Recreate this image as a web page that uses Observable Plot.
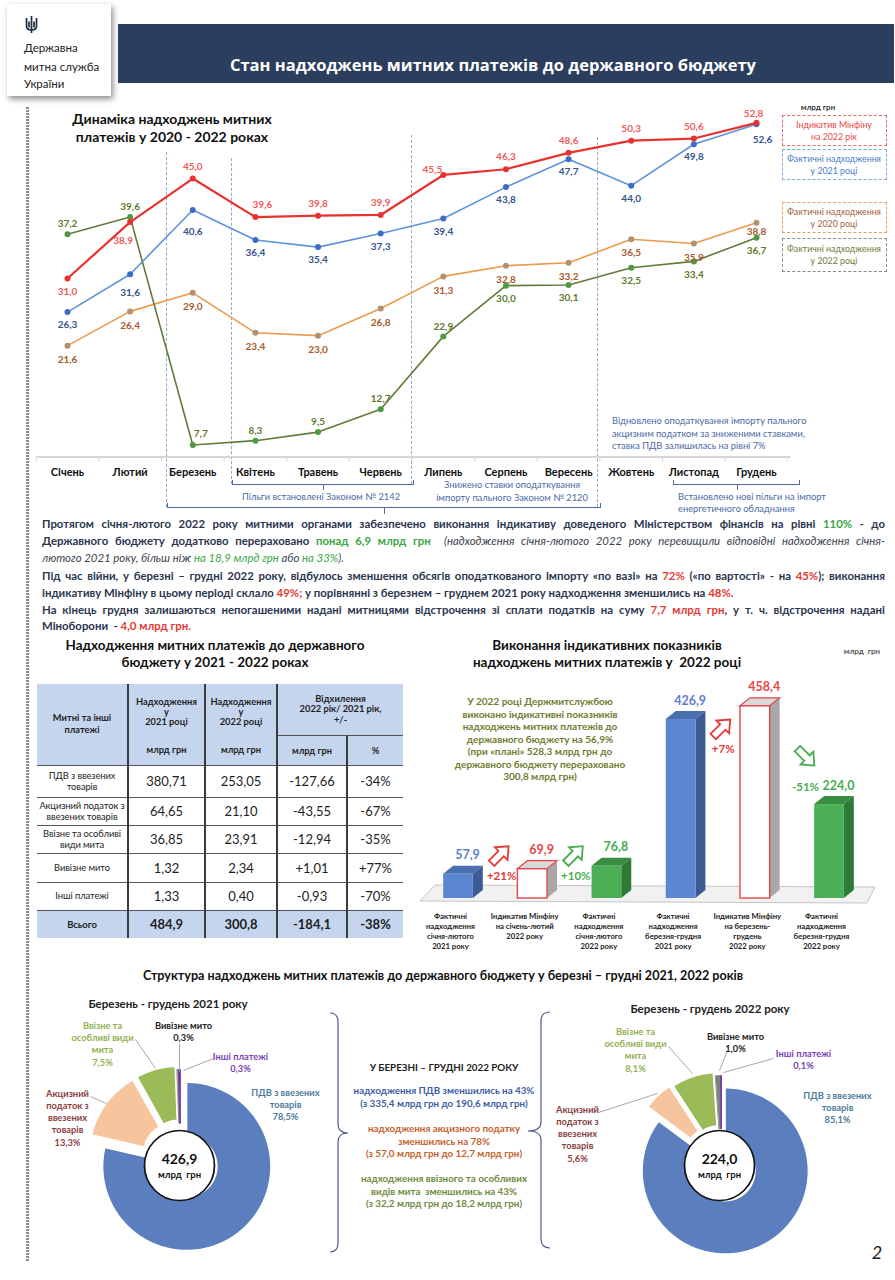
<!DOCTYPE html>
<html lang="uk">
<head>
<meta charset="utf-8">
<script src="https://cdn.jsdelivr.net/npm/d3@7"></script>
<script src="https://cdn.jsdelivr.net/npm/@observablehq/plot@0.6"></script>
<style>
html,body{margin:0;padding:0;background:#fff;}
#page{position:relative;width:895px;height:1280px;overflow:hidden;background:#fff;font-family:Lato,"Open Sans",sans-serif;color:#222;}
#page svg{overflow:visible;}
.g{color:#38a845;} .r{color:#e53935;}
.para i{font-weight:400;color:#3a3f4f;}
.para i .g{color:#38a845;}
table.tb td{padding:0;text-align:center;vertical-align:middle;color:#1e1e1e;}
</style>
</head>
<body>
<div id="page"></div>
<script>
// ================= DATA =================
const months = ["Січень","Лютий","Березень","Квітень","Травень","Червень","Липень","Серпень","Вересень","Жовтень","Листопад","Грудень"];
const indicative2022 = [31.0,38.9,45.0,39.6,39.8,39.9,45.5,46.3,48.6,50.3,50.6,52.8];
const actual2021 = [26.3,31.6,40.6,36.4,35.4,37.3,39.4,43.8,47.7,44.0,49.8,52.6];
const actual2020 = [21.6,26.4,29.0,23.4,23.0,26.8,31.3,32.8,33.2,36.5,35.9,38.8];
const actual2022 = [37.2,39.6,7.7,8.3,9.5,12.7,22.9,30.0,30.1,32.5,33.4,36.7];
const lineSeriesNames = ["Індикатив Мінфіну<br>на 2022 рік","Фактичні надходження<br>у 2021 році","Фактичні надходження<br>у 2020 році","Фактичні надходження<br>у 2022 році"];

const barCategories = ["Фактичні\nнадходження\nсічня-лютого\n2021 року","Індикатив Мінфіну\nна січень-лютий\n2022 року","Фактичні\nнадходження\nсічня-лютого\n2022 року","Фактичні\nнадходження\nберезня-грудня\n2021 року","Індикатив Мінфіну\nна березень-\nгрудень\n2022 року","Фактичні\nнадходження\nберезня-грудня\n2022 року"];
const barValues = [57.9, 69.9, 76.8, 426.9, 458.4, 224.0];
const barChanges = ["+21%","+10%","+7%","-51%"];

const tableRows = ["ПДВ з ввезених<br>товарів","Акцизний податок з<br>ввезених товарів","Ввізне та особливі<br>види мита","Вивізне мито","Інші платежі","Всього"];
const table2021 = ["380,71","64,65","36,85","1,32","1,33","484,9"];
const table2022 = ["253,05","21,10","23,91","2,34","0,40","300,8"];
const tableDiff = ["-127,66","-43,55","-12,94","+1,01","-0,93","-184,1"];
const tablePct = ["-34%","-67%","-35%","+77%","-70%","-38%"];

const pieCategories = ["ПДВ з ввезених\nтоварів","Акцизний\nподаток з\nввезених\nтоварів","Ввізне та\nособливі види\nмита","Вивізне мито","Інші платежі"];
const pie2021 = [78.5,13.3,7.5,0.3,0.3];
const pie2022 = [85.1,5.6,8.1,1.0,0.1];
const pieTotals = [426.9, 224.0];

// ================= HELPERS =================
const page = document.getElementById("page");
const fmt1 = v => d3.format(".1f")(v).replace(".", ",");
function div(css, html) {
  const d = document.createElement("div");
  d.style.cssText = "position:absolute;" + css;
  if (html != null) d.innerHTML = html;
  page.appendChild(d);
  return d;
}
function label(x, y, html, css = "", align = "center") {
  const tx = align === "center" ? "-50%" : align === "right" ? "-100%" : "0";
  return div(`left:${x}px;top:${y}px;transform:translate(${tx},-50%);white-space:nowrap;text-align:${align};${css}`, html);
}
function place(node, left, top) {
  node.style.position = "absolute";
  node.style.left = left + "px";
  node.style.top = top + "px";
  page.appendChild(node);
}

// ================= HEADER =================
div("left:7px;top:4px;width:104px;height:92px;background:#fff;box-shadow:2px 3px 6px rgba(0,0,0,.45);");
div("left:25px;top:15px;width:13px;height:19px;",
  `<svg width="13" height="19" viewBox="0 0 13 19"><path d="M6.5 1 L6.5 15 M1.5 3 L1.5 11 Q1.5 15 6.5 15 Q11.5 15 11.5 11 L11.5 3 M4 6.5 L4 12.5 M9 6.5 L9 12.5 M6.5 15 L6.5 18" stroke="#1f2a44" stroke-width="1.7" fill="none"/></svg>`);
label(24, 47, "Державна", "font-size:11.5px;color:#222;", "left");
label(24, 66, "митна служба", "font-size:11.5px;color:#222;", "left");
label(24, 83, "України", "font-size:11.5px;color:#222;", "left");
div("left:118px;top:24px;width:776px;height:59px;background:#2c3e5d;");
label(493, 64, "Стан надходжень митних платежів до державного бюджету", "font-family:'Open Sans';font-weight:700;font-size:16.5px;color:#fff;");

// left dotted border
div("left:26px;top:107px;width:3px;height:1155px;background:repeating-linear-gradient(to bottom,#8c8c8c 0 2px,transparent 2px 3px);");

// ================= LINE CHART =================
label(172, 128, "Динаміка надходжень митних<br>платежів у 2020 - 2022 роках", "font-weight:700;font-size:14px;line-height:18px;color:#111;");

const annColor = "#4b6aa6";
function vdash(x, y1, y2) { div(`left:${x}px;top:${y1}px;height:${y2 - y1}px;width:0;border-left:1px dashed #8ea6d4;`); }
vdash(166, 152, 507); vdash(231, 158, 484); vdash(411, 135, 484); vdash(597, 137, 507);
function bracket(x1, x2, y, tick) {
  div(`left:${x1}px;top:${y - 5}px;width:${x2 - x1}px;height:5px;border:1px solid ${annColor};border-top:none;box-sizing:border-box;`);
  div(`left:${(x1 + x2) / 2}px;top:${y}px;width:0;height:${tick}px;border-left:1px solid ${annColor};`);
}
bracket(232, 414, 485, 5);
bracket(167, 601, 508, 6);
bracket(673, 800, 485, 5);
const annCss = `font-size:9.3px;color:${annColor};line-height:13px;`;
label(321, 496, "Пільги встановлені Законом № 2142", annCss);
label(512, 491, "Знижено ставки оподаткування<br>імпорту пального Законом № 2120", annCss);
label(612, 434, "Відновлено оподаткування імпорту пального<br>акцизним податком за зниженими ставками,<br>ставка ПДВ залишилась на рівні 7%", annCss + "line-height:12.5px;", "left");
label(678, 503, "Встановлено нові пільги на імпорт<br>енергетичного обладнання", annCss + "line-height:12px;", "left");

const lineColors = ["#e8322f", "#5e93dc", "#ec9a4c", "#617c3a"];
const dotColors = ["#e8322f", "#3d6cc4", "#b3906e", "#4f9a40"];
const labelColors = ["#f05a5a", "#34528c", "#a8582a", "#5c7a2c"];
const allSeries = [indicative2022, actual2021, actual2020, actual2022];

function lineLabelOffset(s, i) {
  switch (s) {
    case 0: return i === 0 ? [0, 13] : i === 1 ? [-7, 19] : i === 6 ? [-11, -5] : i === 3 ? [7, -12] : i === 11 ? [-3, -9] : [0, -12];
    case 1: return i === 11 ? [6, 16] : i === 1 ? [0, 19] : i === 2 ? [0, 22] : [0, 13];
    case 2: return i === 11 ? [0, 9] : [0, 14];
    default: return i === 2 ? [8, -11] : i <= 6 ? [0, -10] : [0, 13];
  }
}

const lineMarks = [
  Plot.ruleY([6], {x1: -0.48, x2: 11.55, stroke: "#d6d6d6", strokeWidth: 2}),
  Plot.ruleX(d3.range(13).map(k => k - 0.5), {y1: 6, y2: 5.3, stroke: "#d6d6d6"}),
  Plot.text(months, {x: (d, i) => i, y: 6, dy: 15, text: d => d, fontWeight: "bold", fontSize: 11, fill: "#111"})
];
[2, 3, 1, 0].forEach(s => {
  const rows = allSeries[s].map((v, i) => ({i, v}));
  lineMarks.push(Plot.line(rows, {x: "i", y: "v", stroke: lineColors[s], strokeWidth: s === 0 ? 2.2 : 1.6}));
  lineMarks.push(Plot.dot(rows, {x: "i", y: "v", r: 3, fill: dotColors[s]}));
});
[2, 3, 1, 0].forEach(s => {
  allSeries[s].forEach((v, i) => {
    const [dx, dy] = lineLabelOffset(s, i);
    lineMarks.push(Plot.text([{i, v}], {x: "i", y: "v", text: d => fmt1(d.v), dx, dy, fill: labelColors[s], fontSize: 10, fontWeight: "bold"}));
  });
});
const lineChart = Plot.plot({
  width: 895, height: 425,
  marginLeft: 67, marginRight: 139, marginTop: 11.6, marginBottom: 63.4,
  x: {domain: [0, 11], axis: null},
  y: {domain: [6, 55], axis: null},
  style: {background: "transparent", overflow: "visible", fontFamily: "Lato, sans-serif"},
  marks: lineMarks
});
place(lineChart, 0, 95);

// legend
label(818, 107, "млрд грн", "font-size:8px;font-weight:700;color:#333;");
const legendBoxes = [
  {top: 115, h: 31, border: "#e86a6a", color: "#e84545"},
  {top: 149, h: 31, border: "#86a9de", color: "#4a7cc8"},
  {top: 202, h: 31, border: "#e8a465", color: "#a0603a"},
  {top: 238, h: 34, border: "#8a8a8a", color: "#6b7d3a"}
];
legendBoxes.forEach((b, k) => {
  div(`left:782px;top:${b.top}px;width:105px;height:${b.h}px;border:1.6px dashed ${b.border};box-sizing:border-box;`);
  label(834, b.top + b.h / 2, lineSeriesNames[k], `font-size:8.8px;line-height:12px;color:${b.color};`);
});

// ================= PARAGRAPH =================
const paraTops = [523, 540, 557, 575, 592, 609, 625];
const para = [
  {h: `Протягом січня-лютого 2022 року митними органами забезпечено виконання індикативу доведеного Міністерством фінансів на рівні <span class="g">110%</span> - до`, j: true},
  {h: `Державного бюджету додатково перераховано <span class="g">понад 6,9 млрд грн</span>&nbsp; <i>(надходження січня-лютого 2022 року перевищили відповідні надходження січня-</i>`, j: true},
  {h: `<i>лютого 2021 року, більш ніж <span class="g">на 18,9 млрд грн</span> або <span class="g">на 33%</span>).</i>`, j: false},
  {h: `Під час війни, у березні – грудні 2022 року, відбулось зменшення обсягів оподаткованого імпорту «по вазі» на <span class="r">72%</span> («по вартості» - на <span class="r">45%</span>); виконання`, j: true},
  {h: `індикативу Мінфіну в цьому періоді склало <span class="r">49%;</span> у порівнянні з березнем – груднем 2021 року надходження зменшились на <span class="r">48%.</span>`, j: false},
  {h: `На кінець грудня залишаються непогашеними надані митницями відстрочення зі сплати податків на суму <span class="r">7,7 млрд грн</span>, у т. ч. відстрочення надані`, j: true},
  {h: `Міноборони&nbsp; - <span class="r">4,0 млрд грн.</span>`, j: false}
];
para.forEach((p, k) => {
  const d = div(`left:42px;top:${paraTops[k] - 6.5}px;width:843px;height:13px;line-height:13px;font-size:11.4px;font-weight:700;color:#2b3650;white-space:nowrap;text-align:${p.j ? "justify" : "left"};text-align-last:${p.j ? "justify" : "left"};`, p.h);
  d.className = "para";
  let fs = 11.4;
  while (d.scrollWidth > 844 && fs > 7) { fs -= 0.2; d.style.fontSize = fs + "px"; }
});

// ================= TABLE =================
label(215, 654, "Надходження митних платежів до державного<br>бюджету у 2021 - 2022 роках", "font-weight:700;font-size:13.5px;line-height:17px;color:#111;");
(function buildTable() {
  const colW = [91, 77, 72, 70, 56];
  const hb = "#c6d5ee";
  const vb = "border-left:2px solid #3b3b3b;";
  const hs = "font-weight:700;font-size:9.3px;";
  let h = `<colgroup>${colW.map(w => `<col style="width:${w}px">`).join("")}</colgroup>`;
  h += `<tr style="height:51px;background:${hb}">
    <td rowspan="2" style="${hs}line-height:12px;">Митні та інші<br>платежі</td>
    <td style="${vb}${hs}line-height:10px;padding-top:4px;">Надходження<br>у<br>2021 році</td>
    <td style="${vb}${hs}line-height:10px;padding-top:4px;">Надходження<br>у<br>2022 році</td>
    <td colspan="2" style="${vb}${hs}line-height:10.5px;">Відхилення<br>2022 рік/ 2021 рік,<br>+/-</td></tr>`;
  h += `<tr style="height:30px;background:${hb}">
    <td style="${vb}${hs}">млрд грн</td><td style="${vb}${hs}">млрд грн</td>
    <td style="${vb}${hs}border-top:1.5px solid #555;">млрд грн</td>
    <td style="${vb}${hs}border-top:1.5px solid #555;">%</td></tr>`;
  const rh = [32, 28, 28, 29, 28, 28];
  tableRows.forEach((name, r) => {
    const tot = r === tableRows.length - 1;
    const bg = tot ? `background:${hb};` : "";
    const fw = tot ? "font-weight:700;" : "";
    const bt = `border-top:${r === 0 ? "1.5px" : "1px"} solid #555;`;
    h += `<tr style="height:${rh[r]}px;${bg}">
      <td style="${bt}font-size:${tot ? 9.5 : 9.4}px;line-height:11.5px;white-space:nowrap;letter-spacing:-0.1px;${fw}">${name}</td>
      <td style="${bt}${vb}font-size:13px;${fw}">${table2021[r]}</td>
      <td style="${bt}${vb}font-size:13px;${fw}">${table2022[r]}</td>
      <td style="${bt}${vb}font-size:13px;${fw}">${tableDiff[r]}</td>
      <td style="${bt}${vb}font-size:13px;${fw}">${tablePct[r]}</td></tr>`;
  });
  const t = document.createElement("table");
  t.className = "tb";
  t.style.cssText = "position:absolute;left:37px;top:684px;width:366px;border-collapse:collapse;table-layout:fixed;font-family:Lato,sans-serif;";
  t.innerHTML = h;
  page.appendChild(t);
})();

// ================= BAR CHART =================
label(607, 654, "Виконання індикативних показників<br>надходжень митних платежів у&nbsp; 2022 році", "font-weight:700;font-size:13.5px;line-height:17px;color:#111;");
label(862, 651, "млрд&nbsp; грн", "font-size:8px;font-weight:700;color:#555;");
label(540, 739, "У 2022 році Держмитслужбою<br>виконано індикативні показників<br>надходжень митних платежів до<br>державного бюджету на 56,9%<br>(при «плані» 528,3 млрд грн до<br>державного бюджету перераховано<br>300,8 млрд грн)", "font-weight:700;font-size:10px;line-height:12.5px;color:#6f7c2f;");

const barStyle = {
  blue: {front: "#5b87d2", top: "#4a6fae", side: "#3c5b95", stroke: "none", topStroke: "none", label: "#5a80cf"},
  white: {front: "#ffffff", top: "#d9d9d9", side: "#a8a8a8", stroke: "#e04848", topStroke: "#e04848", label: "#e84545"},
  green: {front: "#4cae55", top: "#3a8c43", side: "#2f7a37", stroke: "none", topStroke: "none", label: "#45ad50"}
};
const barKinds = ["blue", "white", "green", "blue", "white", "green"];
const HW = 0.2, DEPTH = 10, DEPTHY = 8;
const barFaces = (index, scales) => {
  const {x, y} = scales;
  const g = d3.create("svg:g");
  const y0 = y(0);
  const fl = x(0) - 38, fr = x(barValues.length - 1) + 46;
  g.append("path").attr("d", `M${fl},${y0 + 3}L${fl + 15},${y0 - 13}L${fr},${y0 - 11}L${fr - 8},${y0 + 5}Z`)
    .attr("fill", "#f1f1f1").attr("stroke", "#c4c4c4");
  barValues.forEach((v, i) => {
    const st = barStyle[barKinds[i]];
    const x1 = x(i - HW), x2 = x(i + HW), yt = y(v);
    g.append("path").attr("d", `M${x2},${yt}L${x2 + DEPTH},${yt - DEPTHY}L${x2 + DEPTH},${y0 - DEPTHY}L${x2},${y0}Z`)
      .attr("fill", st.side);
    g.append("path").attr("d", `M${x1},${yt}L${x1 + DEPTH},${yt - DEPTHY}L${x2 + DEPTH},${yt - DEPTHY}L${x2},${yt}Z`)
      .attr("fill", st.top).attr("stroke", st.topStroke).attr("stroke-width", 1.2);
  });
  return g.node();
};
const arrowSpecs = [
  {x: 0.5, v: barValues[0], dx: 5, dy: -19, ang: -45, color: "#e53935"},
  {x: 1.5, v: barValues[1], dx: 5, dy: -14, ang: -45, color: "#45ad50"},
  {x: 3.5, v: barValues[3], dx: 4, dy: 9, ang: -45, color: "#e53935"},
  {x: 4.5, v: barValues[5], dx: 14, dy: -47, ang: 45, color: "#45ad50"}
];
const arrows = (index, scales) => {
  const {x, y} = scales;
  const g = d3.create("svg:g");
  arrowSpecs.forEach(a => {
    g.append("path").attr("d", "M-12,-3.8L1.5,-3.8L1.5,-9L12,0L1.5,9L1.5,3.8L-12,3.8Z")
      .attr("transform", `translate(${x(a.x) + a.dx},${y(a.v) + a.dy}) rotate(${a.ang})`)
      .attr("fill", "#fff").attr("stroke", a.color).attr("stroke-width", 1.8).attr("stroke-linejoin", "miter");
  });
  return g.node();
};
const pctSpecs = [
  {x: 0.5, v: barValues[0], dx: 6, dy: 2, color: "#e53935"},
  {x: 1.5, v: barValues[1], dx: 6, dy: 7, color: "#45ad50"},
  {x: 3.5, v: barValues[3], dx: 5, dy: 30, color: "#e53935"},
  {x: 5, v: barValues[5], dx: -24, dy: -17, color: "#45ad50"}
];
const barMarks = [barFaces];
barValues.forEach((v, i) => {
  const st = barStyle[barKinds[i]];
  barMarks.push(Plot.rect([{i, v}], {x1: d => d.i - HW, x2: d => d.i + HW, y1: 0, y2: "v", fill: st.front, stroke: st.stroke, strokeWidth: 1.4}));
  barMarks.push(Plot.text([{i, v}], {x: "i", y: "v", text: d => fmt1(d.v), dx: 9, dy: -19, fill: st.label, fontSize: 12.5, fontWeight: "bold"}));
});
barMarks.push(arrows);
pctSpecs.forEach((p, k) => {
  barMarks.push(Plot.text([p], {x: "x", y: "v", text: () => barChanges[k], dx: p.dx, dy: p.dy, fill: p.color, fontSize: 11.5, fontWeight: "bold"}));
});
barMarks.push(Plot.text(barCategories, {x: (d, i) => i, y: 0, text: d => d, dx: -8, dy: 13, lineAnchor: "top", lineHeight: 1.3, fontSize: 7.7, fontWeight: "bold", fill: "#222"}));
const barChart = Plot.plot({
  width: 480, height: 270,
  marginLeft: 43, marginRight: 66, marginTop: 0, marginBottom: 52,
  x: {domain: [0, barValues.length - 1], axis: null},
  y: {domain: [0, 520], axis: null},
  style: {background: "transparent", overflow: "visible", fontFamily: "Lato, sans-serif"},
  marks: barMarks
});
place(barChart, 415, 680);

// ================= DONUTS =================
label(443, 975, "Структура надходжень митних платежів до державного бюджету у березні – грудні 2021, 2022 років", "font-weight:700;font-size:12.6px;color:#111;");
label(168, 1003, "Березень - грудень 2021 року", "font-weight:700;font-size:11.5px;color:#222;");
label(710, 1008, "Березень - грудень 2022 року", "font-weight:700;font-size:11.5px;color:#222;");

const pieColors = ["#5b7fbe", "#f6c59d", "#9bbb59", "#808080", "#7030a0"];
const pieLabelColors = ["#4d7c9b", "#8b3e3e", "#93b052", "#222222", "#7b3fb0"];
function donut(cfg) {
  const {left, top, width, height, cx, cy, R, values, explode, inner, labelPos, leaders, circle, total} = cfg;
  const U = (px, py) => [(px - cx) / R, (cy - py) / R];
  const arcs = d3.pie().sort(null).value(d => d)(values);
  const marks = [];
  arcs.forEach((a, k) => {
    const mid = (a.startAngle + a.endAngle) / 2;
    const ox = explode[k] * Math.sin(mid), oy = explode[k] * Math.cos(mid);
    const n = Math.max(2, Math.ceil((a.endAngle - a.startAngle) / 0.02));
    const pts = [];
    for (let j = 0; j <= n; j++) { const t = a.startAngle + (a.endAngle - a.startAngle) * j / n; pts.push([ox + Math.sin(t), oy + Math.cos(t)]); }
    for (let j = n; j >= 0; j--) { const t = a.startAngle + (a.endAngle - a.startAngle) * j / n; pts.push([ox + inner * Math.sin(t), oy + inner * Math.cos(t)]); }
    const big = values[k] > 2;
    marks.push(Plot.line(pts, {x: d => d[0], y: d => d[1], fill: pieColors[k], stroke: big ? "#fff" : pieColors[k], strokeWidth: big ? 1.2 : 0.8, curve: "linear-closed"}));
  });
  marks.push(Plot.link(leaders, {x1: d => U(d[0], d[1])[0], y1: d => U(d[0], d[1])[1], x2: d => U(d[2], d[3])[0], y2: d => U(d[2], d[3])[1], stroke: "#a8a8a8", strokeWidth: 1}));
  values.forEach((v, k) => {
    const [px, py] = labelPos[k];
    marks.push(Plot.text([U(px, py)], {x: d => d[0], y: d => d[1], text: () => pieCategories[k] + "\n" + fmt1(v) + "%", fill: pieLabelColors[k], fontSize: 9.3, fontWeight: "bold", lineHeight: 1.3}));
  });
  const c = U(circle[0], circle[1]);
  marks.push(Plot.dot([c], {x: d => d[0], y: d => d[1], r: 35, fill: "#fff", stroke: "#111", strokeWidth: 1.7}));
  marks.push(Plot.text([c], {x: d => d[0], y: d => d[1], text: () => fmt1(total), dy: -6, fontSize: 14, fontWeight: "bold", fill: "#111"}));
  marks.push(Plot.text([c], {x: d => d[0], y: d => d[1], text: () => "млрд\u00a0\u00a0грн", dy: 9, fontSize: 9.5, fontWeight: "bold", fill: "#111"}));
  const svg = Plot.plot({
    width, height, marginLeft: 0, marginRight: 0, marginTop: 0, marginBottom: 0,
    x: {domain: [(left - cx) / R, (left + width - cx) / R], axis: null},
    y: {domain: [(cy - (top + height)) / R, (cy - top) / R], axis: null},
    style: {background: "transparent", overflow: "visible", fontFamily: "Lato, sans-serif"},
    marks
  });
  place(svg, left, top);
}
donut({
  left: 30, top: 1012, width: 300, height: 255, cx: 180, cy: 1158, R: 84, inner: 0.36,
  values: pie2021, explode: [0.12, 0.1, 0.1, 0.06, 0.06], total: pieTotals[0],
  circle: [179, 1165],
  labelPos: [[285, 1104], [67, 1117], [102, 1043], [183, 1031], [240, 1062]],
  leaders: [[135, 1039, 155, 1068], [179, 1043, 179, 1071], [213, 1058, 183, 1070], [90, 1096, 106, 1103]]
});
donut({
  left: 555, top: 1015, width: 330, height: 255, cx: 721, cy: 1163, R: 83, inner: 0.36,
  values: pie2022, explode: [0.1, 0.12, 0.1, 0.06, 0.06], total: pieTotals[1],
  circle: [719, 1165],
  labelPos: [[837, 1107], [577, 1133], [635, 1049], [735, 1042], [803, 1059]],
  leaders: [[668, 1046, 692, 1073], [727, 1050, 719, 1070], [773, 1058, 723, 1072], [598, 1112, 657, 1093]]
});

// middle text & braces
const midCss = "font-weight:700;font-size:9.8px;line-height:12.6px;";
label(444, 1067, "У БЕРЕЗНІ – ГРУДНІ 2022 РОКУ", midCss + "color:#1e1e1e;");
label(444, 1097, "надходження ПДВ зменшились на 43%<br>(з 335,4 млрд грн до 190,6 млрд грн)", midCss + "color:#3d5da5;");
label(444, 1141, "надходження акцизного податку<br>зменшились на 78%<br>(з 57,0 млрд грн до 12,7 млрд грн)", midCss + "color:#c4622d;");
label(444, 1191, "надходження ввізного та особливих<br>видів мита&nbsp; зменшились на 43%<br>(з 32,2 млрд грн до 18,2 млрд грн)", midCss + "color:#6e8b3d;");
div("left:0;top:0;width:895px;height:1280px;pointer-events:none;",
  `<svg width="895" height="1280"><g fill="none" stroke="#4a5a8a" stroke-width="1.2">
   <path d="M330,1013 Q338,1013 338,1022 L338,1124 Q338,1133 348,1133 Q338,1133 338,1142 L338,1243 Q338,1252 330,1252"/>
   <path d="M550,1012 Q541,1012 541,1021 L541,1122 Q541,1131 528,1131 Q541,1131 541,1140 L541,1239 Q541,1248 550,1248"/>
  </g></svg>`);
label(877, 1252, "2", "font-style:italic;font-size:18px;color:#222;");
</script>
</body>
</html>
